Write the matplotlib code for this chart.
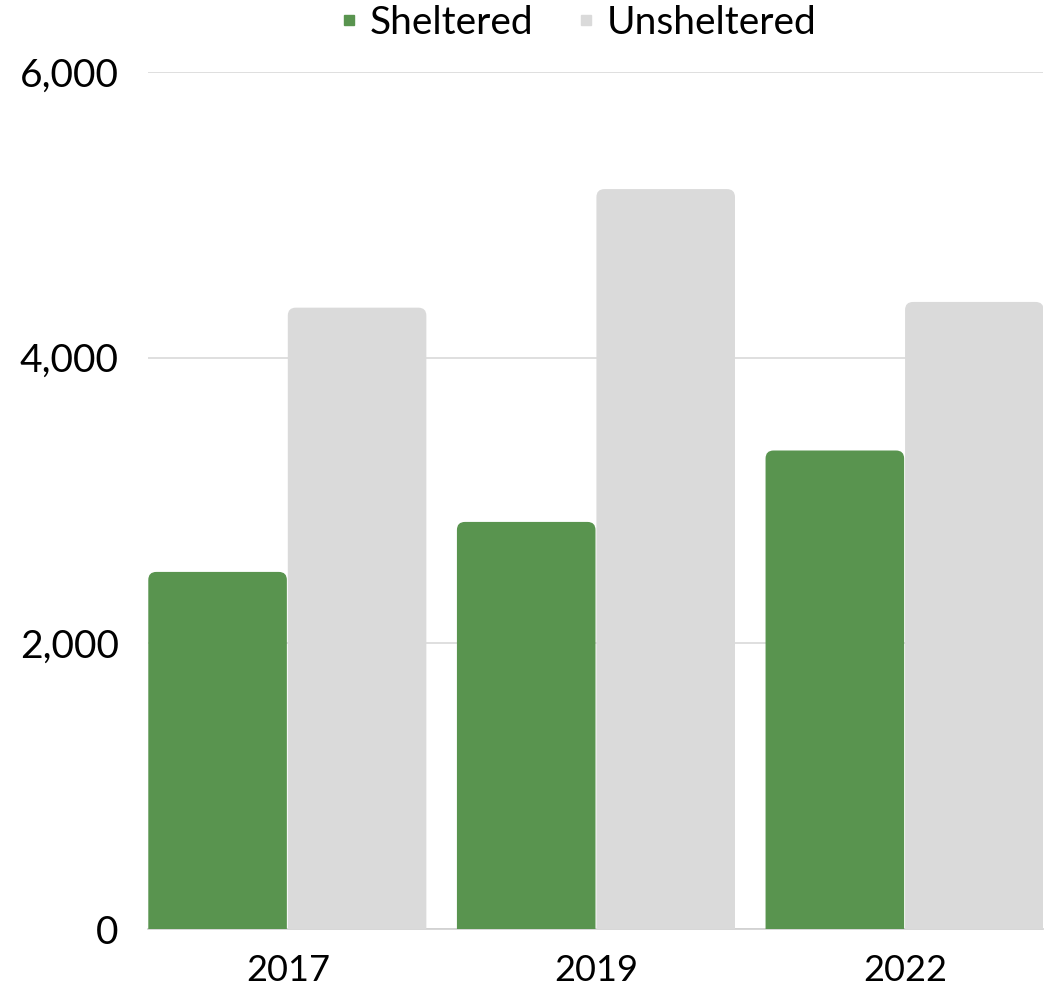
import matplotlib
matplotlib.use("Agg")
import matplotlib.pyplot as plt
import numpy as np
from matplotlib.patches import FancyBboxPatch
from matplotlib.lines import Line2D
from matplotlib.ticker import FuncFormatter

years = ["2017", "2019", "2022"]
sheltered = [2500, 2850, 3350]
unsheltered = [4350, 5180, 4390]

C_GREEN = "#59944F"
C_GRAY = "#DADADA"

plt.rcParams["font.family"] = ["Lato", "DejaVu Sans"]

fig = plt.figure(figsize=(10.51, 9.9), dpi=100)
ax = fig.add_axes([0.1408, 0.0616, 0.8516, 0.8657])

x = np.arange(len(years))
w = 0.449
ax.set_xlim(-0.45, len(years) - 1 + 0.45)
ax.set_ylim(0, 6000)

# rounded top corners: radius in data units, scaled for axis aspect
rx = 0.026
aspect = (6000 / 857) / (1 / 308.5)


def rounded_bars(xs, vals, color, label):
    bars = ax.bar(xs, vals, w, color=color, label=label, alpha=0)
    for b in bars:
        x0, h = b.get_x(), b.get_height()
        p = FancyBboxPatch((x0 + rx, -200 + rx * aspect), w - 2 * rx,
                           h + 200 - 2 * rx * aspect,
                           boxstyle=f"round,pad={rx}",
                           mutation_aspect=aspect,
                           facecolor=color, edgecolor="none", zorder=3)
        ax.add_patch(p)


rounded_bars(x - w / 2, sheltered, C_GREEN, "Sheltered")
rounded_bars(x + w / 2 + 0.003, unsheltered, C_GRAY, "Unsheltered")

ax.set_yticks([0, 2000, 4000, 6000])
ax.yaxis.set_major_formatter(FuncFormatter(lambda v, _: f"{int(v):,}"))
ax.set_xticks(x + 0.003)
ax.set_xticklabels(years)
ax.grid(axis="y", color="#D9D9D9", lw=1.2, zorder=0)
ax.set_axisbelow(True)
for s in ("top", "right", "left"):
    ax.spines[s].set_visible(False)
ax.spines["bottom"].set_color("#D0D0D0")
ax.spines["bottom"].set_linewidth(1.2)
ax.tick_params(length=0, colors="black")
ax.tick_params(axis="x", labelsize=26, pad=18)
ax.tick_params(axis="y", labelsize=28, pad=21)

handles = [Line2D([], [], marker="s", ls="none", color=C_GREEN, markersize=7),
           Line2D([], [], marker="s", ls="none", color=C_GRAY, markersize=7)]
fig.legend(handles, ["Sheltered", "Unsheltered"], loc="center",
           bbox_to_anchor=(0.55, 0.977), ncol=2, frameon=False,
           fontsize=28, handlelength=0.5, handletextpad=0.28, columnspacing=1.1)

fig.savefig("out.png", dpi=100, facecolor="white")
